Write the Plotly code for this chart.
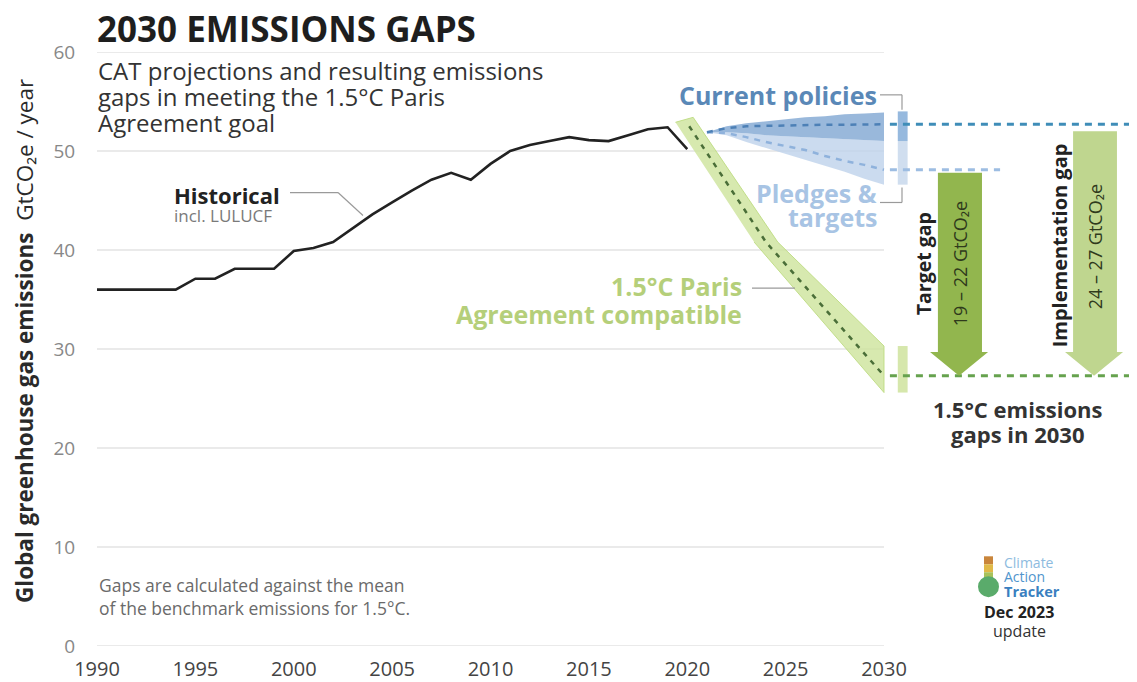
import plotly.graph_objects as go

# ---------------- data ----------------
hist_years = list(range(1990, 2021))
hist_values = [36.0, 36.0, 36.0, 36.0, 36.0, 37.1, 37.1, 38.1, 38.1, 38.1,
               39.9, 40.2, 40.8, 42.2, 43.6, 44.8, 46.0, 47.1, 47.8, 47.1,
               48.7, 50.0, 50.6, 51.0, 51.4, 51.1, 51.0, 51.6, 52.2, 52.4, 50.2]

proj_years = [2021, 2022, 2023, 2024, 2025, 2026, 2027, 2028, 2029, 2030]
cp_upper = [51.9, 52.5, 52.8, 53.0, 53.2, 53.4, 53.5, 53.7, 53.8, 53.9]
cp_mid = [51.9, 52.3, 52.5, 52.55, 52.6, 52.6, 52.65, 52.65, 52.7, 52.7]
cp_lower = [51.9, 51.9, 51.8, 51.6, 51.5, 51.4, 51.3, 51.2, 51.1, 51.0]
pl_mid = [51.9, 51.8, 51.4, 50.9, 50.5, 50.1, 49.5, 49.0, 48.6, 48.1]
pl_lower = [51.9, 51.6, 50.9, 50.3, 49.7, 49.1, 48.5, 47.9, 47.2, 46.6]

pa_years = [2020.1, 2024.0, 2030]
pa_mid = [52.5, 40.8, 27.3]
pa_band_x = [2019.4, 2020.3, 2024.6, 2030, 2030, 2023.4]
pa_band_y = [52.9, 53.4, 40.8, 30.3, 25.6, 40.8]

cp_range = [51.0, 54.0]
pl_range = [46.6, 51.0]
pa_range = [25.6, 30.3]

x_ticks = [1990, 1995, 2000, 2005, 2010, 2015, 2020, 2025, 2030]
y_ticks = [0, 10, 20, 30, 40, 50, 60]

# ---------------- layout helpers ----------------
OFF = 8                      # page body margin of the html page
W, H = 1137 - OFF, 682 - OFF
L, T, B = 97 - OFF, 52 - OFF, 34
PW, PH = W - L, H - T - B    # 1040 x 596
X0, X1 = 1990, 2030
PX_PER_YR = (884 - 97) / 40.0
XMAX = X0 + PW / PX_PER_YR


def P(x, y):
    """page pixel -> paper coordinates"""
    return dict(xref="paper", yref="paper", x=(x - 97) / PW, y=(648 - y) / PH)


FONT = "Open Sans"
fig = go.Figure()

# gridlines (only across the historical/projection area)
for v in y_ticks:
    fig.add_shape(type="line", xref="x", yref="y", x0=X0, x1=X1, y0=v, y1=v,
                  line=dict(color="#d6d6d6", width=1.2), layer="below")

# pledges band (light)
fig.add_trace(go.Scatter(x=proj_years, y=pl_lower, mode="lines",
                         line=dict(width=0), hoverinfo="skip", showlegend=False))
fig.add_trace(go.Scatter(x=proj_years, y=cp_lower, mode="lines", fill="tonexty",
                         fillcolor="rgba(190,210,235,0.8)",
                         line=dict(width=0), hoverinfo="skip", showlegend=False))
# current policies band (darker)
fig.add_trace(go.Scatter(x=proj_years, y=cp_upper, mode="lines", fill="tonexty",
                         fillcolor="rgba(128,166,210,0.8)",
                         line=dict(width=0), hoverinfo="skip", showlegend=False))

# 1.5C band
fig.add_trace(go.Scatter(x=pa_band_x, y=pa_band_y, mode="lines", fill="toself",
                         fillcolor="rgba(205,228,155,0.8)",
                         line=dict(color="rgba(190,220,130,0.9)", width=1),
                         hoverinfo="skip", showlegend=False))

# dashed projection lines
fig.add_trace(go.Scatter(x=proj_years, y=pl_mid, mode="lines",
                         line=dict(color="#8fb2dc", width=2.5, dash="6px,6px"),
                         showlegend=False))
fig.add_trace(go.Scatter(x=proj_years, y=cp_mid, mode="lines",
                         line=dict(color="#4d80b6", width=2.5, dash="6px,6px"),
                         showlegend=False))
fig.add_trace(go.Scatter(x=pa_years, y=pa_mid, mode="lines",
                         line=dict(color="#4a6e38", width=2.5, dash="5px,6px"),
                         showlegend=False))

# historical
fig.add_trace(go.Scatter(x=hist_years, y=hist_values, mode="lines",
                         line=dict(color="#222222", width=2.6), showlegend=False))

# range bars at 2030
bx0, bx1 = 2030.7, 2031.2


def rect(lo, hi, color):
    fig.add_trace(go.Scatter(x=[bx0, bx1, bx1, bx0, bx0], y=[lo, lo, hi, hi, lo],
                             mode="lines", fill="toself", fillcolor=color,
                             line=dict(width=0), hoverinfo="skip", showlegend=False))


rect(pl_range[0], pl_range[1], "rgba(208,222,239,1)")
rect(cp_range[0], cp_range[1], "rgba(150,185,222,1)")
rect(pa_range[0], pa_range[1], "rgba(214,231,172,1)")

# right-hand dashed reference lines
fig.add_trace(go.Scatter(x=[2030.3, XMAX], y=[cp_mid[-1], cp_mid[-1]], mode="lines",
                         line=dict(color="#3f8db8", width=3, dash="7px,6px"),
                         showlegend=False))
fig.add_trace(go.Scatter(x=[2030.3, 2035.9], y=[pl_mid[-1], pl_mid[-1]], mode="lines",
                         line=dict(color="#9dbde2", width=3, dash="7px,6px"),
                         showlegend=False))
fig.add_trace(go.Scatter(x=[2030.3, XMAX], y=[pa_mid[-1], pa_mid[-1]], mode="lines",
                         line=dict(color="#66a24e", width=3, dash="7px,6px"),
                         showlegend=False))


# gap arrows
def arrow(xs0, xs1, xh0, xh1, top, tip, color):
    base = tip + 2.4
    xm = (xh0 + xh1) / 2
    fig.add_trace(go.Scatter(
        x=[xs0, xs1, xs1, xh1, xm, xh0, xs0, xs0],
        y=[top, top, base, base, tip, base, base, top],
        mode="lines", fill="toself", fillcolor=color, line=dict(width=0),
        hoverinfo="skip", showlegend=False))


arrow(2032.74, 2034.98, 2032.34, 2035.29, pl_mid[-1] - 0.3, pa_mid[-1], "#92b64e")
arrow(2039.61, 2041.84, 2039.20, 2042.15, cp_mid[-1] - 0.7, pa_mid[-1], "#bfd68f")

# leader lines
for (xa, ya, xb, yb) in [(290, 193, 338, 193), (338, 193, 363, 216),
                         (752, 289, 795, 289),
                         (880, 95, 902, 95), (902, 95, 902, 110),
                         (880, 203, 902, 203), (902, 203, 902, 188)]:
    a, b = P(xa, ya), P(xb, yb)
    fig.add_shape(type="line", xref="paper", yref="paper", x0=a["x"], y0=a["y"],
                  x1=b["x"], y1=b["y"], line=dict(color="#9a9a9a", width=1.2))

ann = []


def text(x, y, s, size, color, xanchor="left", bold=False, angle=0, yanchor="middle"):
    d = P(x, y)
    d.update(text=("<b>%s</b>" % s) if bold else s, showarrow=False,
             xanchor=xanchor, yanchor=yanchor, textangle=angle,
             font=dict(family=FONT, size=size, color=color))
    ann.append(d)


text(95, 28, "2030 EMISSIONS GAPS", 35, "#1e1e1e", bold=True)
text(96, 71, "CAT projections and resulting emissions", 24, "#333333")
text(96, 97, "gaps in meeting the 1.5°C Paris", 24, "#333333")
text(96, 123, "Agreement goal", 24, "#333333")

text(24, 342, "<b>Global greenhouse gas emissions</b>  GtCO₂e / year", 22.5, "#2a2a2a",
     xanchor="center", angle=-90)

text(172, 195, "Historical", 22, "#222222", bold=True)
text(172, 216, "incl. LULUCF", 17, "#7a7a7a")

text(879, 95, "Current policies", 25, "#5a88b7", xanchor="right", bold=True)
text(879, 193, "Pledges &amp;", 25, "#a8c4e4", xanchor="right", bold=True)
text(879, 218, "targets", 25, "#a8c4e4", xanchor="right", bold=True)

text(744, 287, "1.5°C Paris", 25, "#b5cf7a", xanchor="right", bold=True)
text(744, 315, "Agreement compatible", 25, "#b5cf7a", xanchor="right", bold=True)

text(923, 265, "Target gap", 19.5, "#222222", xanchor="center", bold=True, angle=-90)
text(960, 265, "19 – 22 GtCO₂e", 18, "#2f3a1c", xanchor="center", angle=-90)
text(1059, 246, "Implementation gap", 20, "#222222", xanchor="center", bold=True, angle=-90)
text(1095, 248, "24 – 27 GtCO₂e", 18, "#2f3a1c", xanchor="center", angle=-90)

text(1018, 410, "1.5°C emissions", 22, "#333333", xanchor="center", bold=True)
text(1018, 435, "gaps in 2030", 22, "#333333", xanchor="center", bold=True)

text(97, 587, "Gaps are calculated against the mean", 17.5, "#6a6a6a")
text(97, 610, "of the benchmark emissions for 1.5°C.", 17.5, "#6a6a6a")

# logo
text(1002, 564, "Climate", 14, "#8dbbe0")
text(1002, 578.5, "Action", 14, "#4f95cd")
text(1002, 593, "Tracker", 14.5, "#3a7fc0", bold=True)
text(1019, 614, "Dec 2023", 16, "#222222", xanchor="center", bold=True)
text(1019, 633, "update", 16, "#333333", xanchor="center")

for (ya, yb, col) in [(558, 566, "#c9853b"), (566, 574, "#e0b948"), (574, 583, "#a8c25a")]:
    a, b = P(984, ya), P(993, yb)
    fig.add_shape(type="rect", xref="paper", yref="paper", x0=a["x"], x1=b["x"],
                  y0=a["y"], y1=b["y"], line=dict(width=0), fillcolor=col)
a, b = P(978, 578), P(999, 599)
fig.add_shape(type="circle", xref="paper", yref="paper", x0=a["x"], x1=b["x"],
              y0=a["y"], y1=b["y"], line=dict(width=0), fillcolor="#5aab6b")

fig.update_layout(
    width=W, height=H,
    margin=dict(l=L, r=0, t=T, b=B),
    paper_bgcolor="white", plot_bgcolor="white",
    showlegend=False,
    annotations=ann,
    font=dict(family=FONT),
    xaxis=dict(range=[X0, XMAX], tickvals=x_ticks, ticktext=[str(v) for v in x_ticks],
               showgrid=False, zeroline=False, showline=False,
               ticks="outside", ticklen=5, tickcolor="rgba(0,0,0,0)",
               tickfont=dict(family=FONT, size=20, color="#444444")),
    yaxis=dict(range=[0, 60], tickvals=y_ticks, showgrid=False, zeroline=False,
               showline=False, ticks="outside", ticklen=17, tickcolor="rgba(0,0,0,0)",
               tickfont=dict(family=FONT, size=19, color="#888888")),
)

fig.write_html("out.html")
